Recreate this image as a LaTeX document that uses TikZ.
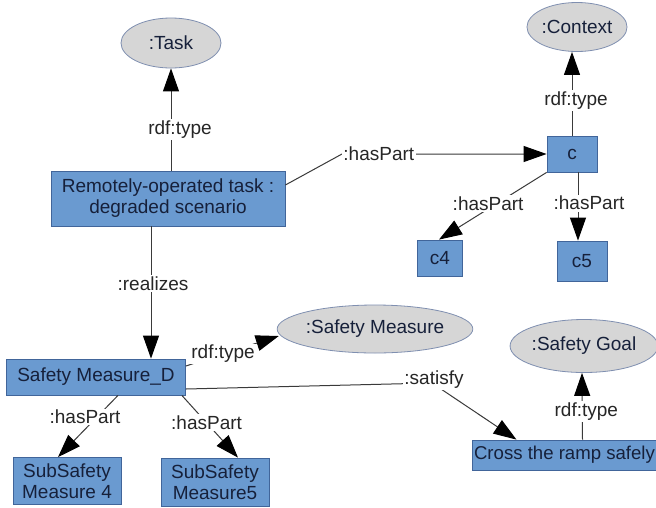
\documentclass[tikz,border=0pt]{standalone}
\usepackage{fontspec}
\setmainfont{Liberation Sans}
\usetikzlibrary{arrows.meta,shapes.geometric}
\definecolor{boxfill}{HTML}{6A9AD0}
\definecolor{boxdraw}{HTML}{41659A}
\definecolor{elfill}{HTML}{D6D6D6}
\definecolor{eldraw}{HTML}{7F8FB0}
\definecolor{nodetext}{HTML}{16203A}
\definecolor{linecol}{HTML}{3A3A3A}
\tikzset{
  box/.style={draw=boxdraw, fill=boxfill, line width=0.8pt, inner sep=0pt, align=center,
    text=nodetext, font=\fontsize{19}{21}\selectfont},
  cls/.style={ellipse, draw=eldraw, fill=elfill, line width=0.8pt, inner sep=0pt,
    text=nodetext, font=\fontsize{19}{21}\selectfont},
  arr/.style={draw=linecol, line width=1pt, -{Triangle[length=23pt,width=16pt,color=black]}},
  plain/.style={draw=linecol, line width=1pt},
  lbl/.style={fill=white, inner sep=1.5pt, text=black!85, font=\fontsize{19}{21}\selectfont}
}
\begin{document}
\begin{tikzpicture}[x=1pt,y=-1pt]
\useasboundingbox (0,0) rectangle (656,507);
\clip (0,0) rectangle (656,507);
\fill[white] (0,0) rectangle (656,507);
% class ellipses
\node[cls, minimum width=100pt, minimum height=50pt] (task) at (171,43) {:Task};
\node[cls, minimum width=99pt, minimum height=49pt] (ctx) at (577,27) {:Context};
\node[cls, minimum width=156pt, minimum height=48pt] (sm) at (375,329) {:Safety Measure};
\node[cls, minimum width=114pt, minimum height=53pt] (sg) at (584,346) {:Safety Goal};
% instance boxes
\node[box, minimum width=234pt, minimum height=55pt] (remote) at (168,198.5) {Remotely-operated task :\\degraded scenario};
\node[box, minimum width=50pt, minimum height=36pt] (c) at (572,154) {c};
\node[box, minimum width=45pt, minimum height=36pt] (c4) at (440,258) {c4};
\node[box, minimum width=50pt, minimum height=40pt] (c5) at (582,261) {c5};
\node[box, minimum width=179pt, minimum height=36pt] (smd) at (96,377) {Safety Measure\_D};
\node[box, minimum width=108pt, minimum height=47pt] (ss4) at (67,481) {SubSafety\\Measure 4};
\node[box, minimum width=108pt, minimum height=48pt] (ss5) at (215,482) {SubSafety\\Measure5};
\node[box, minimum width=185pt, minimum height=30pt,
  font=\fontsize{18.6}{21}\selectfont] (cross) at (564.5,455) {Cross the ramp safely};
% connectors
\draw[arr] ([xshift=3pt]remote.north) -- node[lbl, pos=0.4, xshift=9pt] {rdf:type} (task.south);
\coordinate (bendA) at (342,154);
\draw[arr] ([yshift=13.5pt]remote.east) -- (bendA) -- node[lbl, pos=0.18] {:hasPart} (c.west);
\draw[arr] (c.north) -- node[lbl, pos=0.42, xshift=4pt] {rdf:type} ([xshift=-5pt]ctx.south);
\draw[arr] (c.south west) -- node[lbl, pos=0.46, xshift=-9pt] {:hasPart} ([xshift=-1pt]c4.north);
\draw[arr] ([xshift=6pt]c.south) -- node[lbl, pos=0.45, xshift=11pt] {:hasPart} ([xshift=-4pt]c5.north);
\draw[arr] ([xshift=-17pt]remote.south) -- node[lbl, pos=0.43, xshift=2pt] {:realizes} ([xshift=55pt]smd.north);
\draw[arr] ([yshift=11pt]smd.east) -- node[lbl, pos=0.4] {rdf:type} ([xshift=2pt,yshift=-7pt]sm.west);
\draw[arr] ([xshift=22pt]smd.south) -- node[lbl, pos=0.35, xshift=-12pt] {:hasPart} ([xshift=-9pt]ss4.north);
\draw[arr] ([xshift=-4pt]smd.south east) -- node[lbl, pos=0.44] {:hasPart} ([xshift=23pt]ss5.north);
\coordinate (bendB) at (432,383);
\draw[arr] ([yshift=-12pt]smd.east) -- (bendB) -- ([xshift=-48pt]cross.north);
\node[lbl] (satlbl) at (434,380) {:satisfy};
\draw[arr] ([xshift=18pt]cross.north) -- node[lbl, pos=0.42, xshift=4pt] {rdf:type} ([xshift=-2pt]sg.south);
\end{tikzpicture}
\end{document}
